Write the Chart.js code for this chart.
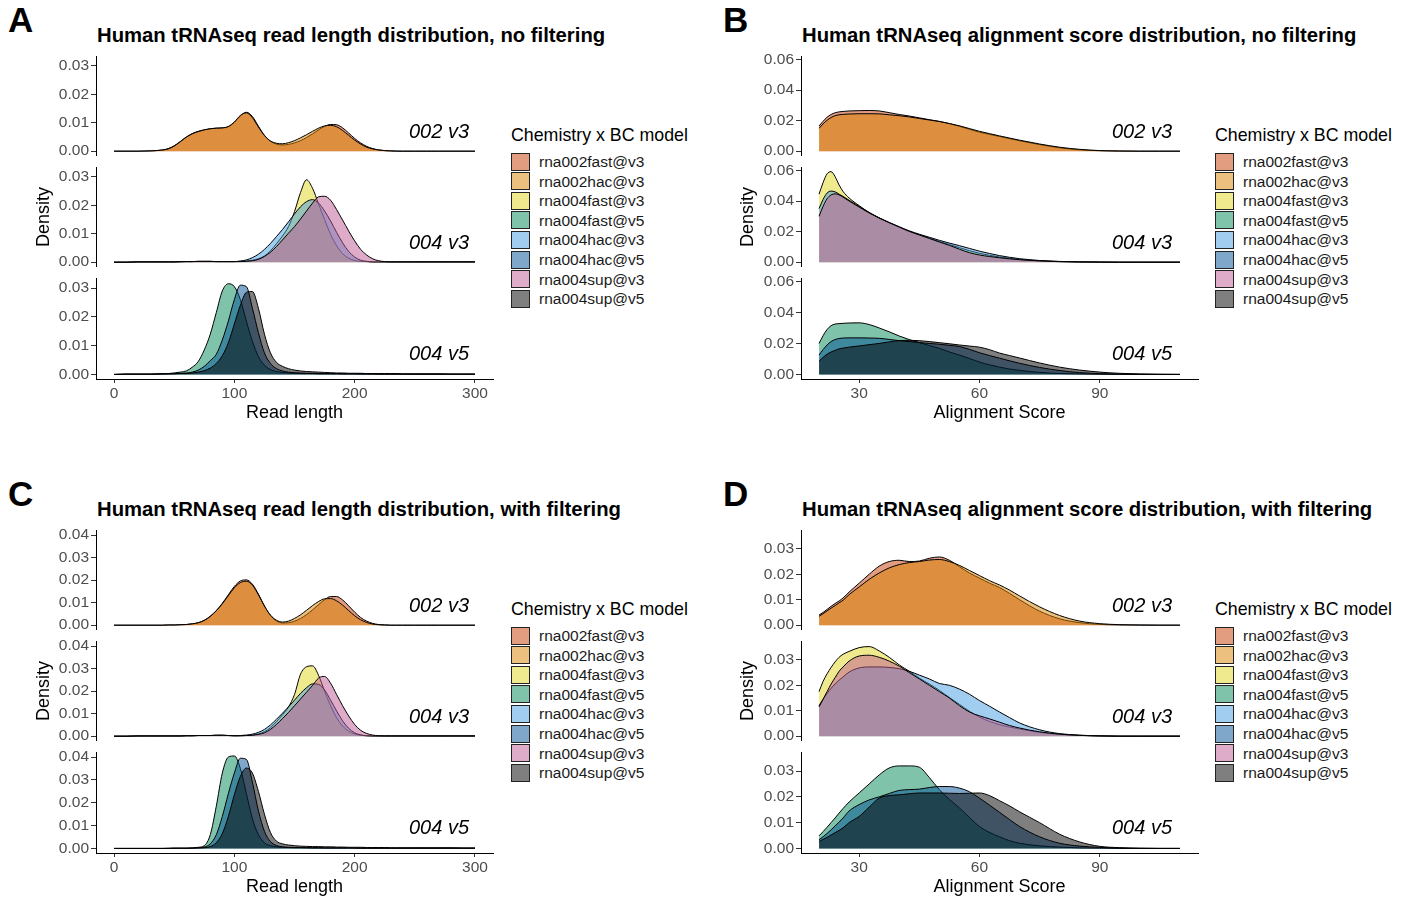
<!DOCTYPE html>
<html><head><meta charset="utf-8">
<script src="https://cdn.jsdelivr.net/npm/chart.js@4.4.1/dist/chart.umd.min.js"></script>
<style>
body{margin:0;width:1408px;height:899px;background:#fff;position:relative;overflow:hidden;font-family:"Liberation Sans",Arial,sans-serif;color:#000;}
.abs{position:absolute;white-space:nowrap;}
canvas{position:absolute;}
.letter{font-weight:bold;font-size:35px;line-height:35px;}
.title{font-weight:bold;font-size:20.3px;line-height:22px;}
.legtitle{font-size:17.8px;line-height:20px;}
.key{position:absolute;width:19px;height:18px;border:1px solid #222;box-sizing:border-box;}
.keylab{font-size:15.5px;line-height:18px;color:#1a1a1a;}
</style></head><body>
<script>
// ---------- x grids ----------
const readLength = [0,10,20,30, 40,45,50,55,60,65,70,75,80,85, 90,95,100,105,110,115,120,125,130,135, 140,145,150,155,160,165,170,175,180,185, 190,195,200,205,210,215,220,225,230,235, 240,250,260,270,280,290,300];
const alignScore = [20,21,22,23,24,25,26,27.5, 30,32.5,35,37.5,40,42.5,45,47.5, 50,52.5,55,57.5,60,62.5,65,67.5, 70,75,80,85,90,95,100,105,110];

// ---------- tick labels ----------
const lenTicks = [0,100,200,300];
const scoreTicks = [30,60,90];
const densTicksA = [0,0.01,0.02,0.03];
const densTicksB = [0,0.02,0.04,0.06];
const densTicksC = [0,0.01,0.02,0.03,0.04];
const densTicksD = [0,0.01,0.02,0.03];

const models = ['rna002fast@v3','rna002hac@v3','rna004fast@v3','rna004fast@v5','rna004hac@v3','rna004hac@v5','rna004sup@v3','rna004sup@v5'];
const facetNames = ['002 v3','004 v3','004 v5'];

// ---------- A: read length, no filtering ----------
const A_002fast_v3 = [0,0,0,.0001, .0004,.0009,.0019,.0034,.0050,.0062,.0070,.0075,.0079,.0081, .0082,.0086,.0101,.0124,.0137,.0122,.0088,.0056,.0035,.0025, .0022,.0024,.0029,.0037,.0048,.0061,.0075,.0087,.0094,.0093, .0082,.0064,.0045,.0029,.0017,.0009,.00045,.0002,.0001,.00005, 0,0,0,0,0,0,0];
const A_002hac_v3 = [0,0,0,.0001, .0004,.0008,.0018,.0033,.0049,.0061,.0069,.0075,.0079,.0081, .0082,.0087,.0103,.0126,.0135,.0118,.0085,.0055,.0036,.0028, .0026,.0030,.0037,.0047,.0058,.0070,.0081,.0089,.0091,.0086, .0073,.0056,.0039,.0025,.0014,.0008,.0004,.0002,.0001,0, 0,0,0,0,0,0,0];
const A_004fast_v3 = [0,0,.0001,.0001, .0001,.0001,.0001,.0002,.0002,.0002,.0003,.0003,.0003,.0002, .0002,.0002,.0002,.0003,.0004,.0007,.0012,.0022,.0040,.0065, .0092,.0125,.0178,.0245,.0290,.0260,.0205,.0150,.0098,.0058, .0030,.0014,.0006,.0003,.0002,.0001,.0001,.0001,.0001,.0001, .0001,.0001,.0001,.0001,.0001,.0001,.0001];
const A_004hac_v3 = [0,0,.0001,.0001, .0001,.0001,.0001,.0002,.0002,.0002,.0003,.0003,.0003,.0002, .0002,.0002,.0002,.0004,.0008,.0016,.0028,.0045,.0066,.0090, .0115,.0142,.0170,.0195,.0213,.0220,.0208,.0180,.0145,.0105, .0068,.0038,.0018,.0007,.0003,.0001,.0001,.0001,.0001,.0001, .0001,.0001,.0001,.0001,.0001,.0001,.0001];
const A_004sup_v3 = [0,0,.0001,.0001, .0001,.0001,.0001,.0001,.0002,.0002,.0002,.0002,.0002,.0002, .0002,.0002,.0002,.0002,.0003,.0005,.0010,.0020,.0035,.0055, .0078,.0102,.0125,.0152,.0180,.0208,.0230,.0232,.0218,.0185, .0148,.0110,.0075,.0045,.0025,.0012,.0005,.0002,.0001,.0001, .0001,.0001,.0001,.0001,.0001,.0001,.0001];
const A_004fast_v5 = [0,.0001,.0001,.0001, .0002,.0003,.0005,.0008,.0012,.0025,.0045,.0085,.0140,.0215, .0290,.0315,.0305,.0260,.0185,.0115,.0062,.0032,.0017,.0010, .0007,.0005,.0004,.0003,.0003,.0003,.0002,.0002,.0002,.0002, .0002,.0002,.0002,.0001,.0001,.0001,.0001,.0001,.0001,.0001, .0001,.0001,.0001,.0001,.0001,.0001,.0001];
const A_004hac_v5 = [0,.0001,.0001,.0001, .0002,.0002,.0003,.0004,.0005,.0008,.0015,.0028,.0048,.0070, .0120,.0185,.0260,.0310,.0305,.0230,.0145,.0075,.0038,.0020, .0012,.0008,.0006,.0005,.0004,.0004,.0003,.0003,.0003,.0003, .0002,.0002,.0002,.0002,.0002,.0002,.0001,.0001,.0001,.0001, .0001,.0001,.0001,.0001,.0001,.0001,.0001];
const A_004sup_v5 = [0,.0001,.0001,.0001, .0002,.0002,.0002,.0003,.0003,.0005,.0008,.0013,.0022,.0038, .0065,.0110,.0175,.0240,.0285,.0288,.0230,.0140,.0075,.0042, .0028,.0020,.0015,.0012,.0010,.0009,.0008,.0007,.0006,.0005, .0005,.0004,.0004,.0004,.0003,.0003,.0003,.0003,.0003,.0003, .0002,.0002,.0002,.0002,.0001,.0001,.0001];

// ---------- B: alignment score, no filtering ----------
const B_002fast_v3 = [.0165,.0195,.0222,.0240,.0251,.0257,.0260,.0263, .0265,.0266,.0263,.0252,.0240,.0230,.0218,.0206, .0195,.0180,.0163,.0143,.0124,.0110,.0096,.0082, .0068,.0043,.0022,.0009,.0003,.0001,0,0,0];
const B_002hac_v3 = [.0150,.0178,.0202,.0220,.0232,.0238,.0241,.0243, .0245,.0245,.0244,.0238,.0232,.0224,.0214,.0204, .0194,.0181,.0166,.0148,.0130,.0115,.0100,.0086, .0072,.0047,.0026,.0012,.0004,.0001,0,0,0];
const B_004fast_v3 = [.0445,.0520,.0578,.0592,.0560,.0505,.0462,.0420, .0370,.0325,.0290,.0258,.0228,.0200,.0178,.0158, .0135,.0115,.0095,.0075,.0058,.0045,.0034,.0025, .0018,.0009,.0004,.0002,.0001,0,0,0,0];
const B_004hac_v3 = [.0350,.0410,.0452,.0465,.0460,.0445,.0430,.0405, .0365,.0325,.0290,.0260,.0232,.0205,.0183,.0163, .0143,.0125,.0108,.0090,.0072,.0057,.0043,.0032, .0023,.0011,.0005,.0002,.0001,0,0,0,0];
const B_004sup_v3 = [.0300,.0365,.0415,.0440,.0447,.0440,.0425,.0400, .0360,.0322,.0288,.0258,.0230,.0202,.0178,.0155, .0132,.0110,.0085,.0062,.0047,.0037,.0029,.0022, .0016,.0008,.0003,.0001,0,0,0,0,0];
const B_004fast_v5 = [.0200,.0250,.0290,.0315,.0325,.0328,.0330,.0332, .0333,.0322,.0300,.0275,.0248,.0225,.0205,.0187, .0168,.0145,.0125,.0103,.0080,.0062,.0047,.0035, .0026,.0013,.0006,.0003,.0001,0,0,0,0];
const B_004hac_v5 = [.0125,.0160,.0190,.0212,.0225,.0232,.0235,.0236, .0236,.0235,.0233,.0226,.0218,.0212,.0206,.0200, .0195,.0188,.0180,.0162,.0140,.0122,.0105,.0088, .0072,.0045,.0025,.0012,.0005,.0002,.0001,0,0];
const B_004sup_v5 = [.0085,.0110,.0130,.0145,.0155,.0165,.0170,.0176, .0184,.0192,.0200,.0210,.0218,.0220,.0218,.0212, .0205,.0198,.0190,.0183,.0176,.0160,.0138,.0122, .0106,.0074,.0047,.0028,.0015,.0007,.0003,.0001,0];

// ---------- C: read length, with filtering ----------
const C_002fast_v3 = [0,0,0,0, 0,.0001,.0001,.0002,.0003,.0006,.0011,.0022,.0040,.0065, .0097,.0135,.0172,.0196,.0201,.0182,.0138,.0085,.0043,.0019, .0010,.0011,.0018,.0030,.0047,.0068,.0091,.0113,.0127,.0127, .0112,.0086,.0058,.0034,.0018,.0008,.0003,.0001,0,0, 0,0,0,0,0,0,0];
const C_002hac_v3 = [0,0,0,0, 0,.0001,.0001,.0002,.0003,.0006,.0011,.0021,.0039,.0064, .0095,.0131,.0166,.0189,.0195,.0178,.0135,.0085,.0045,.0022, .0014,.0018,.0030,.0046,.0066,.0087,.0105,.0117,.0118,.0108, .0089,.0065,.0042,.0024,.0012,.0005,.0002,.0001,0,0, 0,0,0,0,0,0,0];
const C_004fast_v3 = [0,0,.0001,.0001, .0001,.0001,.0001,.0001,.0002,.0002,.0003,.0003,.0003,.0004, .0004,.0003,.0002,.0002,.0003,.0005,.0010,.0020,.0038,.0065, .0095,.0130,.0185,.0275,.0308,.0312,.0270,.0200,.0135,.0082, .0045,.0022,.0010,.0004,.0002,.0001,.0001,.0001,.0001,.0001, .0001,.0001,.0001,.0001,.0001,.0001,.0001];
const C_004hac_v3 = [0,0,.0001,.0001, .0001,.0001,.0001,.0001,.0002,.0002,.0003,.0003,.0003,.0004, .0004,.0003,.0002,.0003,.0005,.0009,.0017,.0030,.0050,.0075, .0102,.0130,.0160,.0190,.0215,.0232,.0230,.0205,.0160,.0112, .0068,.0035,.0015,.0006,.0002,.0001,.0001,.0001,.0001,.0001, .0001,.0001,.0001,.0001,.0001,.0001,.0001];
const C_004sup_v3 = [0,0,.0001,.0001, .0001,.0001,.0001,.0001,.0002,.0002,.0003,.0003,.0003,.0004, .0004,.0003,.0002,.0002,.0003,.0004,.0008,.0015,.0030,.0052, .0078,.0105,.0135,.0165,.0195,.0225,.0258,.0265,.0235,.0185, .0135,.0090,.0052,.0026,.0012,.0005,.0002,.0001,.0001,.0001, .0001,.0001,.0001,.0001,.0001,.0001,.0001];
const C_004fast_v5 = [0,0,0,0, 0,.0001,.0001,.0001,.0001,.0002,.0005,.0012,.0060,.0185, .0330,.0400,.0405,.0350,.0240,.0130,.0060,.0025,.0012,.0007, .0005,.0004,.0003,.0003,.0003,.0002,.0002,.0002,.0002,.0002, .0002,.0002,.0001,.0001,.0001,.0001,.0001,.0001,.0001,.0001, .0001,.0001,.0001,.0001,.0001,.0001,.0001];
const C_004hac_v5 = [0,0,0,0, 0,0,.0001,.0001,.0001,.0002,.0003,.0006,.0020,.0060, .0140,.0240,.0330,.0395,.0390,.0290,.0165,.0075,.0030,.0013, .0007,.0005,.0004,.0004,.0003,.0003,.0003,.0002,.0002,.0002, .0002,.0002,.0002,.0001,.0001,.0001,.0001,.0001,.0001,.0001, .0001,.0001,.0001,.0001,.0001,.0001,.0001];
const C_004sup_v5 = [0,0,0,0, 0,0,.0001,.0001,.0001,.0001,.0002,.0003,.0008,.0025, .0065,.0140,.0235,.0315,.0352,.0330,.0250,.0150,.0070,.0032, .0020,.0015,.0012,.0010,.0009,.0008,.0008,.0007,.0007,.0006, .0006,.0005,.0005,.0005,.0004,.0004,.0004,.0004,.0003,.0003, .0003,.0003,.0003,.0003,.0003,.0002,.0002];

// ---------- D: alignment score, with filtering ----------
const D_002fast_v3 = [.0040,.0050,.0062,.0074,.0085,.0095,.0107,.0130, .0165,.0200,.0232,.0250,.0255,.0250,.0252,.0263, .0268,.0255,.0230,.0205,.0185,.0165,.0148,.0125, .0100,.0055,.0025,.0010,.0003,.0001,0,0,0];
const D_002hac_v3 = [.0035,.0045,.0056,.0067,.0077,.0088,.0098,.0120, .0150,.0180,.0205,.0225,.0238,.0246,.0250,.0256, .0258,.0250,.0235,.0215,.0195,.0175,.0158,.0138, .0115,.0072,.0038,.0016,.0006,.0002,.0001,0,0];
const D_004fast_v3 = [.0175,.0215,.0245,.0270,.0292,.0310,.0322,.0333, .0348,.0352,.0335,.0310,.0280,.0255,.0228,.0205, .0180,.0152,.0125,.0098,.0075,.0058,.0045,.0036, .0028,.0015,.0007,.0003,.0001,0,0,0,0];
const D_004hac_v3 = [.0120,.0145,.0168,.0188,.0205,.0220,.0233,.0252, .0268,.0272,.0272,.0270,.0265,.0255,.0240,.0225, .0207,.0200,.0185,.0165,.0140,.0118,.0095,.0073, .0052,.0025,.0010,.0004,.0001,0,0,0,0];
const D_004sup_v3 = [.0115,.0145,.0175,.0205,.0230,.0255,.0272,.0295, .0315,.0318,.0310,.0295,.0275,.0250,.0225,.0200, .0175,.0150,.0120,.0095,.0080,.0068,.0055,.0042, .0032,.0017,.0008,.0003,.0001,0,0,0,0];
const D_004fast_v5 = [.0049,.0065,.0082,.0100,.0118,.0137,.0155,.0180, .0215,.0250,.0285,.0312,.0320,.0320,.0315,.0275, .0228,.0190,.0157,.0120,.0085,.0062,.0045,.0030, .0020,.0010,.0005,.0002,.0001,0,0,0,0];
const D_004hac_v5 = [.0034,.0045,.0058,.0072,.0087,.0102,.0118,.0145, .0170,.0188,.0200,.0213,.0225,.0228,.0230,.0236, .0240,.0240,.0234,.0220,.0195,.0168,.0140,.0112, .0085,.0045,.0020,.0009,.0004,.0001,0,0,0];
const D_004sup_v5 = [.0027,.0035,.0043,.0052,.0061,.0070,.0080,.0100, .0124,.0160,.0195,.0205,.0208,.0212,.0215,.0215, .0215,.0214,.0213,.0214,.0215,.0205,.0185,.0165, .0142,.0100,.0055,.0025,.0008,.0003,.0001,0,0];

// ---------- styling ----------
const FONT = '"Liberation Sans", Arial, sans-serif';
Chart.defaults.font.family = FONT;
const fills = {
  'rna002fast@v3':'rgba(197,57,0,0.5)',
  'rna002hac@v3':'rgba(217,131,0,0.5)',
  'rna004fast@v3':'rgba(225,213,30,0.5)',
  'rna004fast@v5':'rgba(0,137,85,0.5)',
  'rna004hac@v3':'rgba(65,155,225,0.5)',
  'rna004hac@v5':'rgba(0,80,150,0.5)',
  'rna004sup@v3':'rgba(190,90,145,0.5)',
  'rna004sup@v5':'rgba(0,0,0,0.5)'
};

const panels = [
  {letter:'A', title:'Human tRNAseq read length distribution, no filtering', left:0, letterX:8, yW:96, right:493, top0:55,
   xs:readLength, xMin:-15, xMax:315, xTicks:lenTicks, xTitle:'Read length', yMin:-0.00159, yMax:0.03339, yTicks:densTicksA,
   densPad:33.2, labR:24, legLeft:511,
   facets:[[['rna002fast@v3',A_002fast_v3],['rna002hac@v3',A_002hac_v3]],
           [['rna004fast@v3',A_004fast_v3],['rna004hac@v3',A_004hac_v3],['rna004sup@v3',A_004sup_v3]],
           [['rna004fast@v5',A_004fast_v5],['rna004hac@v5',A_004hac_v5],['rna004sup@v5',A_004sup_v5]]]},
  {letter:'B', title:'Human tRNAseq alignment score distribution, no filtering', left:700, letterX:723, yW:101, right:1198, top0:55,
   xs:alignScore, xMin:15.5, xMax:114.5, xTicks:scoreTicks, xTitle:'Alignment Score', yMin:-0.00296, yMax:0.06206, yTicks:densTicksB,
   densPad:37.2, labR:26, legLeft:1215,
   facets:[[['rna002fast@v3',B_002fast_v3],['rna002hac@v3',B_002hac_v3]],
           [['rna004fast@v3',B_004fast_v3],['rna004hac@v3',B_004hac_v3],['rna004sup@v3',B_004sup_v3]],
           [['rna004fast@v5',B_004fast_v5],['rna004hac@v5',B_004hac_v5],['rna004sup@v5',B_004sup_v5]]]},
  {letter:'C', title:'Human tRNAseq read length distribution, with filtering', left:0, letterX:8, yW:96, right:493, top0:529,
   xs:readLength, xMin:-15, xMax:315, xTicks:lenTicks, xTitle:'Read length', yMin:-0.0020, yMax:0.0421, yTicks:densTicksC,
   densPad:33.2, labR:24, legLeft:511,
   facets:[[['rna002fast@v3',C_002fast_v3],['rna002hac@v3',C_002hac_v3]],
           [['rna004fast@v3',C_004fast_v3],['rna004hac@v3',C_004hac_v3],['rna004sup@v3',C_004sup_v3]],
           [['rna004fast@v5',C_004fast_v5],['rna004hac@v5',C_004hac_v5],['rna004sup@v5',C_004sup_v5]]]},
  {letter:'D', title:'Human tRNAseq alignment score distribution, with filtering', left:700, letterX:723, yW:101, right:1198, top0:529,
   xs:alignScore, xMin:15.5, xMax:114.5, xTicks:scoreTicks, xTitle:'Alignment Score', yMin:-0.00178, yMax:0.03728, yTicks:densTicksD,
   densPad:37.2, labR:26, legLeft:1215,
   facets:[[['rna002fast@v3',D_002fast_v3],['rna002hac@v3',D_002hac_v3]],
           [['rna004fast@v3',D_004fast_v3],['rna004hac@v3',D_004hac_v3],['rna004sup@v3',D_004sup_v3]],
           [['rna004fast@v5',D_004fast_v5],['rna004hac@v5',D_004hac_v5],['rna004sup@v5',D_004sup_v5]]]}
];

const FACET_H = 102, FACET_STEP = 111, PAD = 10, XAX_H = 45, PAD_R = 10;

function addDiv(cls, text, left, top) {
  const d = document.createElement('div');
  d.className = 'abs ' + cls;
  d.textContent = text;
  d.style.left = left + 'px';
  d.style.top = top + 'px';
  document.body.appendChild(d);
  return d;
}

panels.forEach(p => {
  const titleY = p.top0 - 20;  // centre of title line
  addDiv('letter', p.letter, p.letterX, p.top0 - 53);
  addDiv('title', p.title, p.left + p.yW + 1, titleY - 11);

  // legend
  const legTop = p.top0 + 70;
  addDiv('legtitle', 'Chemistry x BC model', p.legLeft, legTop);
  models.forEach((m, i) => {
    const k = document.createElement('div');
    k.className = 'key';
    k.style.left = p.legLeft + 'px';
    k.style.top = (legTop + 27.5 + i * 19.6) + 'px';
    k.style.background = fills[m];
    document.body.appendChild(k);
    addDiv('keylab', m, p.legLeft + 28, legTop + 27.5 + i * 19.6 + 0.5);
  });

  p.facets.forEach((series, fi) => {
    const isBottom = fi === 2;
    const areaTop = p.top0 + fi * FACET_STEP;
    const cv = document.createElement('canvas');
    const w = (p.right - p.left) + PAD_R;
    const h = PAD + FACET_H + (isBottom ? XAX_H + 1 : PAD);
    cv.width = w; cv.height = h;
    cv.style.left = p.left + 'px';
    cv.style.top = (areaTop - PAD) + 'px';
    cv.style.width = w + 'px'; cv.style.height = h + 'px';
    document.body.appendChild(cv);

    const n = series.length;
    const datasets = series.map(([name, vals], j) => {
      if (vals.length !== p.xs.length) throw new Error(p.letter + ' ' + name + ' length ' + vals.length);
      return {
        label: name,
        data: p.xs.map((x, k) => ({x: x, y: vals[k]})),
        borderColor: '#000',
        borderWidth: 1,
        backgroundColor: fills[name],
        fill: 'origin',
        pointRadius: 0,
        cubicInterpolationMode: 'monotone',
        order: n - j
      };
    });

    const facetLabel = {
      id: 'facetLabel',
      afterDatasetsDraw(chart) {
        const c = chart.ctx, a = chart.chartArea;
        c.save();
        c.font = 'italic 20px ' + FONT;
        c.fillStyle = '#000';
        c.textAlign = 'right';
        c.textBaseline = 'middle';
        c.fillText(facetNames[fi], a.right - p.labR, a.top + 76);
        c.restore();
      }
    };

    new Chart(cv, {
      type: 'line',
      data: {datasets},
      plugins: [facetLabel],
      options: {
        responsive: false, animation: false, devicePixelRatio: 1,
        layout: {padding: {top: PAD, bottom: isBottom ? 1 : PAD, left: 0, right: PAD_R}},
        plugins: {legend: {display: false}, tooltip: {enabled: false}, title: {display: false}},
        scales: {
          x: {
            type: 'linear', min: p.xMin, max: p.xMax, display: isBottom,
            afterBuildTicks: s => { s.ticks = p.xTicks.map(v => ({value: v})); },
            afterFit: isBottom ? (s => { s.height = XAX_H; }) : undefined,
            ticks: {font: {size: 15.5}, color: '#4d4d4d', padding: 1.5, maxRotation: 0, autoSkip: false, callback: v => String(v)},
            grid: {drawOnChartArea: false, drawTicks: true, tickLength: 4, color: '#333', tickColor: '#333'},
            border: {display: true, color: '#000', width: 1},
            title: {display: true, text: p.xTitle, font: {size: 18}, color: '#000', padding: {top: 0, bottom: 0.5}}
          },
          y: {
            type: 'linear', min: p.yMin, max: p.yMax,
            afterFit: s => { s.width = p.yW; },
            afterBuildTicks: s => { s.ticks = p.yTicks.map(v => ({value: v})); },
            ticks: {font: {size: 15.5}, color: '#4d4d4d', padding: 2, callback: v => v.toFixed(2)},
            grid: {drawOnChartArea: false, drawTicks: true, tickLength: 5, color: '#333', tickColor: '#333'},
            border: {display: true, color: '#000', width: 1},
            title: {display: fi === 1, text: 'Density', font: {size: 18}, color: '#000', padding: {top: p.densPad, bottom: 0}}
          }
        }
      }
    });
  });
});
</script>
</body></html>
